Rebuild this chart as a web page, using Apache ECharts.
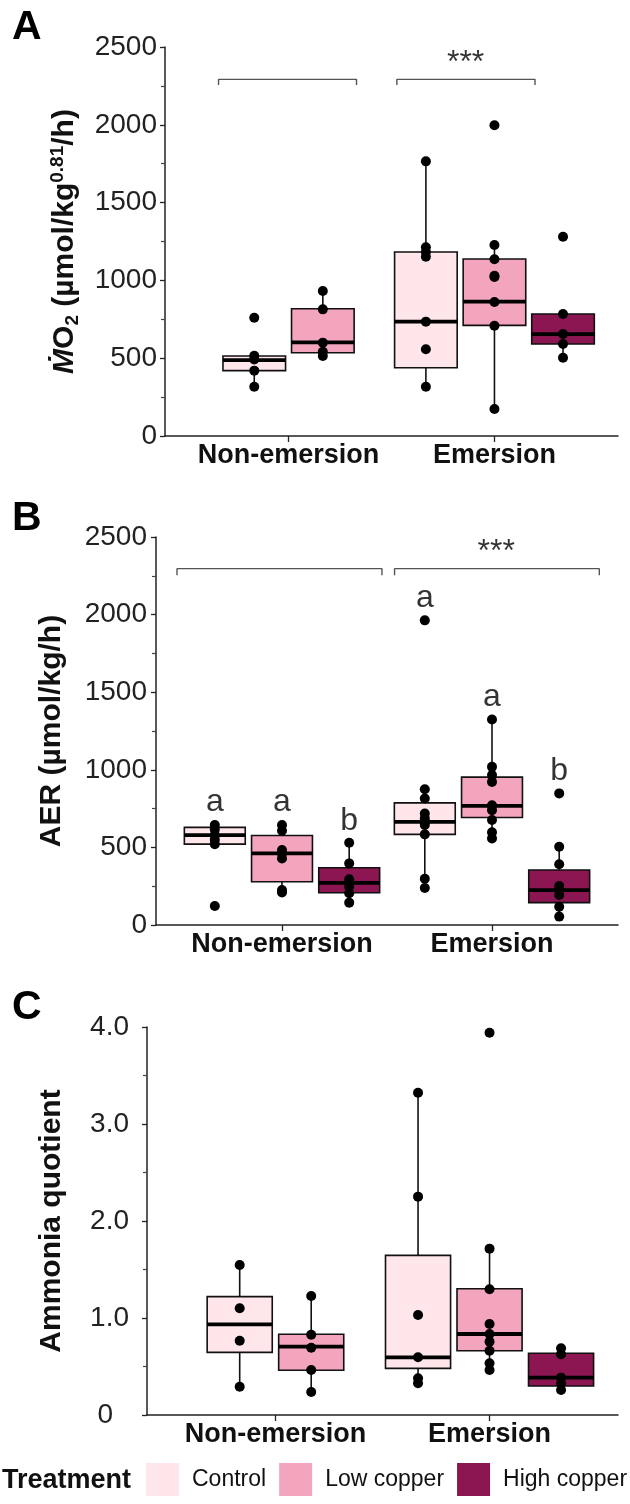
<!DOCTYPE html>
<html>
<head>
<meta charset="utf-8">
<script src="https://cdn.jsdelivr.net/npm/echarts@6/dist/echarts.min.js"></script>
<style>
  html, body { margin: 0; padding: 0; background: #fff; }
  #main { width: 630px; height: 1504px; }
</style>
</head>
<body>
<div id="main"></div>
<script>
// categories
const conditions = ["Non-emersion", "Emersion"];
const treatments = ["Control", "Low copper", "High copper"];

// box stats: [lower whisker, q1, median, q3, upper whisker]
// A: MO2 (non-emersion has no high copper group)
const mo2StatsNonEm = [[317, 420, 488, 514, 514], [514, 535, 602, 818, 932]];
const mo2StatsEm = [[317, 439, 735, 1183, 1765], [174, 711, 863, 1138, 1228], [503, 591, 655, 784, 784]];
const mo2PtsNonEm = [[760, 516, 492, 420, 317], [932, 814, 600, 542, 514]];
const mo2PtsEm = [
  [1765, 1213, 1183, 1152, 735, 557, 317],
  [1997, 1228, 1136, 1030, 1022, 861, 709, 174],
  [1281, 784, 655, 591, 503],
];

// B: AER
const aerStatsNonEm = [[521, 521, 579, 629, 644], [210, 279, 461, 577, 644], [144, 208, 272, 369, 530]];
const aerStatsEm = [[238, 584, 665, 787, 875], [558, 693, 768, 953, 1324], [54, 144, 225, 354, 504]];
const aerPtsNonEm = [
  [644, 615, 579, 550, 521, 122],
  [644, 607, 483, 461, 429, 225, 210],
  [530, 397, 294, 272, 247, 204, 144],
];
const aerPtsEm = [
  [1963, 875, 815, 719, 687, 665, 644, 584, 298, 238],
  [1324, 1019, 966, 922, 772, 740, 676, 597, 558],
  [848, 504, 391, 251, 225, 193, 118, 54],
];
const aerLettersNonEm = ["a", "a", "b"];
const aerLettersEm = ["a", "a", "b"];
const aerLetterYNonEm = [792, 792, 671];
const aerLetterYEm = [2109, 1466, 993];

// C: ammonia quotient
const aqStatsNonEm = [[0.292, 0.646, 0.935, 1.22, 1.546], [0.237, 0.461, 0.704, 0.832, 1.227]];
const aqStatsEm = [[0.327, 0.481, 0.595, 1.646, 3.323], [0.464, 0.663, 0.835, 1.302, 1.715], [0.258, 0.299, 0.385, 0.636, 0.687]];
const aqPtsNonEm = [[1.546, 1.10, 0.766, 0.292], [1.227, 0.828, 0.694, 0.464, 0.237]];
const aqPtsEm = [
  [3.323, 2.251, 1.031, 0.595, 0.378, 0.327],
  [3.941, 1.715, 1.296, 0.938, 0.835, 0.756, 0.663, 0.533, 0.464],
  [0.687, 0.626, 0.385, 0.327, 0.258],
];

// significance brackets: [x start, x end, top, end]
const mo2Brackets = [[0.66, 1.33, 2292, 2255], [1.526, 2.197, 2292, 2255]];
const aerBrackets = [[0.5, 1.476, 2296, 2253], [1.536, 2.511, 2296, 2253]];
const mo2Stars = [[1.86, 2397]];
const aerStars = [[2.02, 2401]];

const colors = ["#FEE6EB", "#F3A5BD", "#8B1651"];
const FONT = "Liberation Sans, Arial, Helvetica, sans-serif";

const chart = echarts.init(document.getElementById("main"));

function boxRenderer(width) {
  return function (params, api) {
    const x = api.value(0);
    const lo = api.coord([x, api.value(1)]);
    const q1 = api.coord([x - width / 2, api.value(2)]);
    const md = api.coord([x, api.value(3)]);
    const q3 = api.coord([x + width / 2, api.value(4)]);
    const hi = api.coord([x, api.value(5)]);
    return {
      type: "group",
      children: [
        { type: "line", shape: { x1: lo[0], y1: lo[1], x2: hi[0], y2: hi[1] }, style: { stroke: "#111", lineWidth: 1.6 } },
        {
          type: "rect",
          shape: { x: q1[0], y: q3[1], width: q3[0] - q1[0], height: q1[1] - q3[1] },
          style: { fill: api.visual("color"), stroke: "#111", lineWidth: 1.6 },
        },
        { type: "line", shape: { x1: q1[0], y1: md[1], x2: q3[0], y2: md[1] }, style: { stroke: "#000", lineWidth: 3.8 } },
      ],
    };
  };
}

const option = {
  animation: false,
  grid: [],
  xAxis: [],
  yAxis: [],
  series: [],
  legend: {
    data: treatments,
    left: 146,
    top: 1463,
    width: 484,
    padding: 0,
    icon: "rect",
    itemWidth: 33,
    itemHeight: 33,
    itemGap: 13,
    selectedMode: false,
    textStyle: { fontFamily: FONT, fontSize: 23, color: "#111", padding: [0, 0, 0, 8] },
  },
  graphic: [
    { type: "text", x: 12, y: 28, style: { text: "A", fontFamily: FONT, fontSize: 41, fontWeight: "bold", fill: "#000", verticalAlign: "middle" } },
    { type: "text", x: 12, y: 519, style: { text: "B", fontFamily: FONT, fontSize: 41, fontWeight: "bold", fill: "#000", verticalAlign: "middle" } },
    { type: "text", x: 12, y: 1008, style: { text: "C", fontFamily: FONT, fontSize: 41, fontWeight: "bold", fill: "#000", verticalAlign: "middle" } },
    { type: "text", x: 2, y: 1481, style: { text: "Treatment", fontFamily: FONT, fontSize: 27, fontWeight: "bold", fill: "#111", verticalAlign: "middle" } },
  ],
};

function addPanel(p) {
  const i = option.grid.length;
  option.grid.push({ left: p.left, right: 12, top: p.top, height: p.height, outerBoundsMode: "none" });
  option.xAxis.push({
    type: "value",
    gridIndex: i,
    min: 0.4,
    max: 2.6,
    splitLine: { show: false },
    axisLine: { onZero: false, lineStyle: { color: "#222", width: 1.5 } },
    axisTick: { customValues: [1, 2], length: 6, lineStyle: { color: "#222", width: 1.3 } },
    axisLabel: {
      customValues: [1, 2],
      formatter: (v) => conditions[Math.round(v) - 1],
      fontFamily: FONT,
      fontSize: 27,
      fontWeight: "bold",
      color: "#111",
      margin: 6,
    },
  });
  option.yAxis.push({
    type: "value",
    gridIndex: i,
    min: 0,
    max: p.max,
    interval: p.interval,
    name: p.name,
    nameLocation: "middle",
    nameRotate: 90,
    nameGap: p.nameGap,
    nameTextStyle: Object.assign(
      { fontFamily: FONT, fontSize: 30, fontWeight: "bold", color: "#111", align: "center", verticalAlign: "middle" },
      p.nameRich ? { rich: p.nameRich } : {}
    ),
    splitLine: { show: false },
    axisLine: { show: true, onZero: false, lineStyle: { color: "#222", width: 1.5 } },
    axisTick: { show: true, length: 5, lineStyle: { color: "#222", width: 1.3 } },
    minorTick: { show: true, splitNumber: 2, length: 4, lineStyle: { color: "#444", width: 1.2 } },
    axisLabel: {
      fontFamily: FONT,
      fontSize: 28,
      color: "#222",
      margin: p.labelMargin,
      formatter: p.labelFormatter || ((v) => String(v)),
      rich: p.labelRich,
    },
  });

  // boxes + points, one series per treatment
  const groups = [
    { stats: p.statsNonEm, pts: p.ptsNonEm, center: 1 },
    { stats: p.statsEm, pts: p.ptsEm, center: 2 },
  ];
  treatments.forEach((t, g) => {
    const boxData = [];
    const ptData = [];
    groups.forEach((grp) => {
      const n = grp.stats.length;
      if (g >= n) return;
      const x = grp.center + (g - (n - 1) / 2) * p.step;
      boxData.push([x].concat(grp.stats[g]));
      grp.pts[g].forEach((v) => ptData.push([x, v]));
    });
    option.series.push({
      name: t,
      type: "custom",
      xAxisIndex: i,
      yAxisIndex: i,
      itemStyle: { color: colors[g] },
      renderItem: boxRenderer(p.boxWidth),
      encode: { x: 0, y: [1, 2, 3, 4, 5] },
      data: boxData,
      z: 2,
    });
    option.series.push({
      type: "scatter",
      xAxisIndex: i,
      yAxisIndex: i,
      symbolSize: 10,
      itemStyle: { color: "#000", opacity: 1 },
      data: ptData,
      z: 4,
    });
  });

  // brackets
  (p.brackets || []).forEach((b) => {
    option.series.push({
      type: "line",
      xAxisIndex: i,
      yAxisIndex: i,
      symbol: "none",
      lineStyle: { color: "#555", width: 1.4 },
      data: [[b[0], b[3]], [b[0], b[2]], [b[1], b[2]], [b[1], b[3]]],
      z: 1,
    });
  });

  // text annotations (stars, letters)
  const notes = [];
  (p.stars || []).forEach((s) => notes.push({ value: s, label: { formatter: "***", fontSize: 32 } }));
  (p.letters || []).forEach((l) => notes.push({ value: l.value, label: { formatter: l.text, fontSize: 32 } }));
  if (notes.length) {
    option.series.push({
      type: "scatter",
      xAxisIndex: i,
      yAxisIndex: i,
      symbolSize: 0.01,
      itemStyle: { color: "rgba(0,0,0,0)" },
      label: { show: true, position: "inside", fontFamily: FONT, color: "#000" },
      data: notes,
      z: 5,
    });
  }
}

addPanel({
  left: 165, top: 47, height: 389,
  max: 2500, interval: 500,
  name: "{m|Ṁ}{n|O}{sub|2}{n| (µmol/kg}{sup|0.81}{n|/h)}",
  nameRich: {
    m: { fontFamily: FONT, fontSize: 30, fontWeight: "bold", fontStyle: "italic", color: "#111" },
    n: { fontFamily: FONT, fontSize: 30, fontWeight: "bold", color: "#111" },
    sub: { fontFamily: FONT, fontSize: 19, fontWeight: "bold", color: "#111", verticalAlign: "bottom", lineHeight: 34 },
    sup: { fontFamily: FONT, fontSize: 19, fontWeight: "bold", color: "#111", verticalAlign: "top", lineHeight: 30 },
  },
  nameGap: 100,
  labelMargin: 8,
  step: 0.333, boxWidth: 0.304,
  statsNonEm: mo2StatsNonEm, statsEm: mo2StatsEm,
  ptsNonEm: mo2PtsNonEm, ptsEm: mo2PtsEm,
  brackets: mo2Brackets, stars: mo2Stars,
});

const aerLetters = [];
aerLettersNonEm.forEach((t, g) => aerLetters.push({ text: t, value: [1 + (g - 1) * 0.32, aerLetterYNonEm[g]] }));
aerLettersEm.forEach((t, g) => aerLetters.push({ text: t, value: [2 + (g - 1) * 0.32, aerLetterYEm[g]] }));

addPanel({
  left: 156, top: 537, height: 388,
  max: 2500, interval: 500,
  name: "AER (µmol/kg/h)",
  nameGap: 104,
  labelMargin: 9,
  step: 0.32, boxWidth: 0.29,
  statsNonEm: aerStatsNonEm, statsEm: aerStatsEm,
  ptsNonEm: aerPtsNonEm, ptsEm: aerPtsEm,
  brackets: aerBrackets, stars: aerStars, letters: aerLetters,
});

addPanel({
  left: 147, top: 1027, height: 388,
  max: 4, interval: 1,
  name: "Ammonia quotient",
  nameGap: 95,
  labelMargin: 18,
  labelFormatter: (v) => (v === 0 ? "{z|0}" : v.toFixed(1)),
  labelRich: { z: { fontFamily: FONT, fontSize: 28, color: "#222", padding: [0, 16, 0, 0] } },
  step: 0.334, boxWidth: 0.304,
  statsNonEm: aqStatsNonEm, statsEm: aqStatsEm,
  ptsNonEm: aqPtsNonEm, ptsEm: aqPtsEm,
});

chart.setOption(option);
</script>
</body>
</html>
